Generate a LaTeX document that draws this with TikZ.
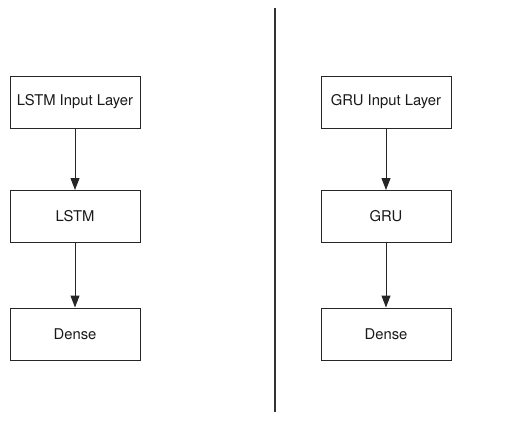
\documentclass[tikz,border=0pt]{standalone}
\usepackage{fontspec}
\setmainfont{TeX Gyre Heros}
\usetikzlibrary{arrows.meta}
\begin{document}
\begin{tikzpicture}[x=1pt,y=-1pt,
  layer/.style={draw=black!85, line width=1pt, minimum width=130pt,
    minimum height=52pt, inner sep=0pt,
    font=\fontsize{14.8}{17}\selectfont, text=black!90},
  flow/.style={draw=black!85, line width=1pt,
    -{Triangle[length=12pt,width=9pt]}},
  divider/.style={draw=black!80, line width=1.2pt}]
\useasboundingbox (0,0) rectangle (531,423);

% LSTM stack
\node[layer] (l1) at (75,102) {LSTM Input Layer};
\node[layer] (l2) at (75,216.5) {LSTM};
\node[layer] (l3) at (75,334) {Dense};
\draw[flow] (l1) -- (l2);
\draw[flow] (l2) -- (l3);

% GRU stack
\node[layer] (g1) at (386,102) {GRU Input Layer};
\node[layer] (g2) at (386,216.5) {GRU};
\node[layer] (g3) at (386,334) {Dense};
\draw[flow] (g1) -- (g2);
\draw[flow] (g2) -- (g3);

% separator between the two models
\coordinate (dtop) at (275,8);
\coordinate (dbot) at (275,412);
\draw[divider] (dtop) -- (dbot);
\end{tikzpicture}
\end{document}
